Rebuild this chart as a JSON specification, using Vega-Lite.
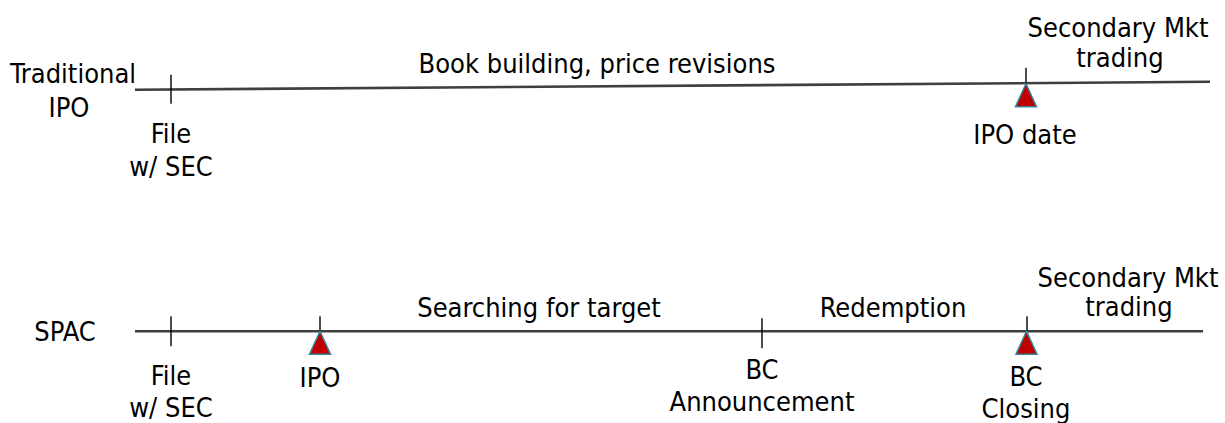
{
  "$schema": "https://vega.github.io/schema/vega-lite/v6.json",
  "width": 1225,
  "height": 423,
  "autosize": {"type": "fit", "contains": "padding"},
  "padding": 0,
  "background": "white",
  "config": {"view": {"stroke": null}},
  "datasets": {
    "segments": [
      {"x1": 135, "y1": 90, "x2": 1210, "y2": 82, "kind": "main"},
      {"x1": 171, "y1": 75, "x2": 171, "y2": 104, "kind": "tick"},
      {"x1": 1026, "y1": 68, "x2": 1026, "y2": 84, "kind": "tick"},
      {"x1": 135, "y1": 332, "x2": 1203, "y2": 332, "kind": "main"},
      {"x1": 171, "y1": 317, "x2": 171, "y2": 347, "kind": "tick"},
      {"x1": 320, "y1": 317, "x2": 320, "y2": 332, "kind": "tick"},
      {"x1": 762, "y1": 319, "x2": 762, "y2": 349, "kind": "tick"},
      {"x1": 1027, "y1": 317, "x2": 1027, "y2": 332, "kind": "tick"}
    ],
    "markers": [
      {"x": 1026, "y": 95.5},
      {"x": 320, "y": 343.5},
      {"x": 1026.5, "y": 343.5}
    ],
    "labels": [
      {"x": 73, "y": 83, "label": "Traditional"},
      {"x": 69, "y": 117, "label": "IPO"},
      {"x": 171, "y": 143, "label": "File"},
      {"x": 171, "y": 176, "label": "w/ SEC"},
      {"x": 597, "y": 73, "label": "Book building, price revisions"},
      {"x": 1118, "y": 37, "label": "Secondary Mkt"},
      {"x": 1120, "y": 67, "label": "trading"},
      {"x": 1025, "y": 144, "label": "IPO date"},
      {"x": 65, "y": 342, "label": "SPAC"},
      {"x": 171, "y": 386, "label": "File"},
      {"x": 171, "y": 418, "label": "w/ SEC"},
      {"x": 320, "y": 388, "label": "IPO"},
      {"x": 539, "y": 318, "label": "Searching for target"},
      {"x": 893, "y": 318, "label": "Redemption"},
      {"x": 762, "y": 380, "label": "BC"},
      {"x": 762, "y": 412, "label": "Announcement"},
      {"x": 1026, "y": 387, "label": "BC"},
      {"x": 1026, "y": 419, "label": "Closing"},
      {"x": 1128, "y": 288, "label": "Secondary Mkt"},
      {"x": 1129, "y": 317, "label": "trading"}
    ]
  },
  "layer": [
    {
      "data": {"name": "segments"},
      "mark": {"type": "rule", "strokeCap": "butt"},
      "encoding": {
        "x": {"field": "x1", "type": "quantitative", "scale": {"domain": [0, 1225], "nice": false, "zero": false}, "axis": null},
        "y": {"field": "y1", "type": "quantitative", "scale": {"domain": [0, 423], "nice": false, "zero": false, "reverse": true}, "axis": null},
        "x2": {"field": "x2"},
        "y2": {"field": "y2"},
        "color": {"field": "kind", "type": "nominal", "scale": {"domain": ["main", "tick"], "range": ["#3f3f3f", "#000000"]}, "legend": null},
        "strokeWidth": {"field": "kind", "type": "nominal", "scale": {"domain": ["main", "tick"], "range": [2.6, 1.4]}, "legend": null}
      }
    },
    {
      "data": {"name": "markers"},
      "mark": {"type": "point", "shape": "M0,-1L-0.913,1L0.913,1Z", "size": 529, "filled": true, "fill": "#c00000", "stroke": "#31849b", "strokeWidth": 1.5, "opacity": 1},
      "encoding": {
        "x": {"field": "x", "type": "quantitative", "scale": {"domain": [0, 1225], "nice": false, "zero": false}, "axis": null},
        "y": {"field": "y", "type": "quantitative", "scale": {"domain": [0, 423], "nice": false, "zero": false, "reverse": true}, "axis": null}
      }
    },
    {
      "data": {"name": "labels"},
      "mark": {"type": "text", "align": "center", "baseline": "alphabetic", "font": "DejaVu Sans Condensed, Open Sans, sans-serif", "fontSize": 27, "color": "#000000"},
      "encoding": {
        "x": {"field": "x", "type": "quantitative", "scale": {"domain": [0, 1225], "nice": false, "zero": false}, "axis": null},
        "y": {"field": "y", "type": "quantitative", "scale": {"domain": [0, 423], "nice": false, "zero": false, "reverse": true}, "axis": null},
        "text": {"field": "label", "type": "nominal"}
      }
    }
  ]
}
